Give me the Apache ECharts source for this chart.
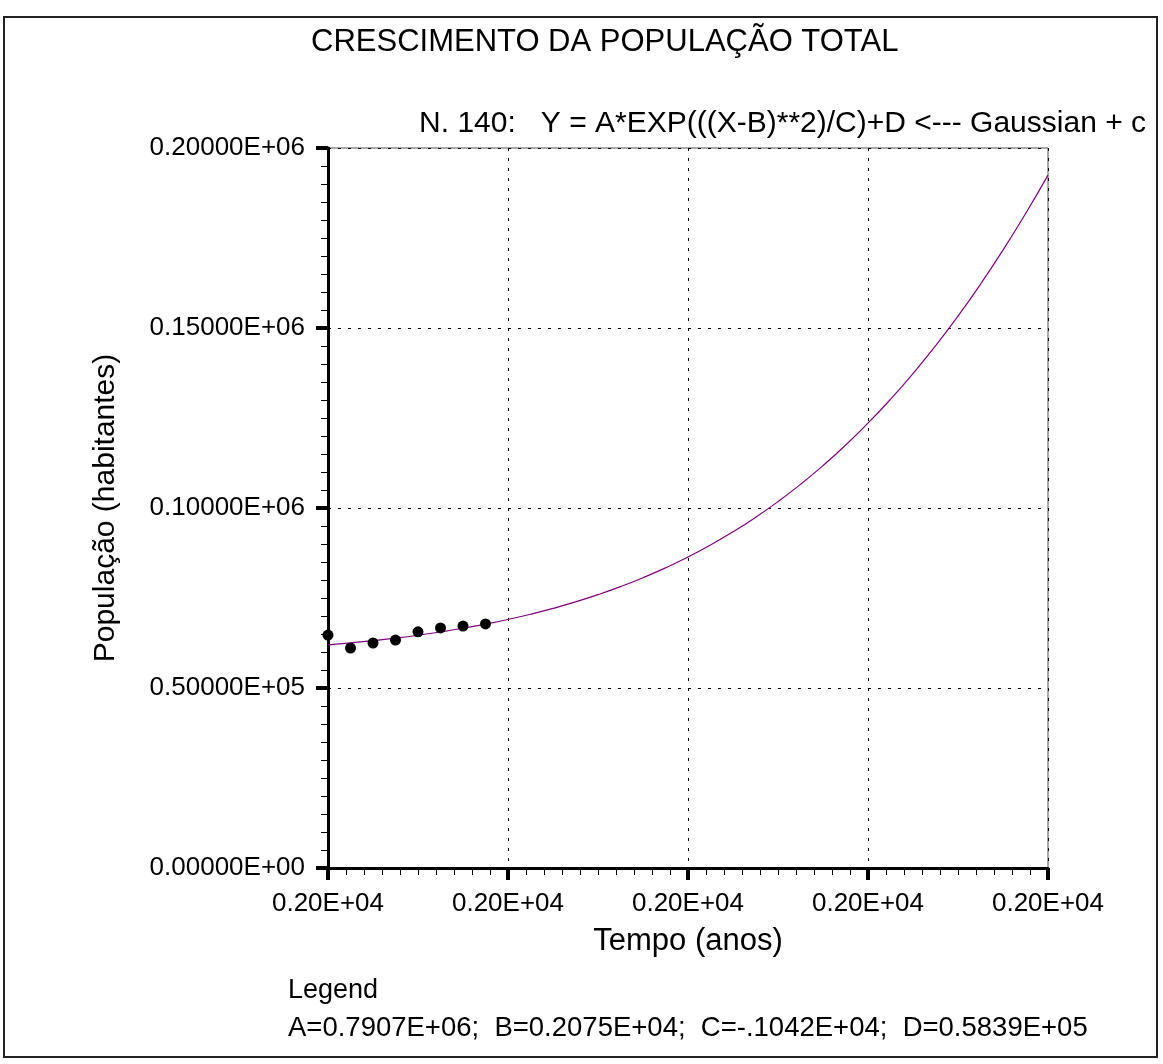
<!DOCTYPE html>
<html>
<head>
<meta charset="utf-8">
<script src="https://cdn.jsdelivr.net/npm/echarts@6/dist/echarts.min.js"></script>
<style>
html,body{margin:0;padding:0;background:#fff;}
#chart{width:1163px;height:1064px;}
</style>
</head>
<body>
<div id="chart"></div>
<script>
// Observed data (year, population)
var obsYears = [2000, 2001, 2002, 2003, 2004, 2005, 2006, 2007];
var obsValues = [64700, 61100, 62500, 63300, 65600, 66700, 67200, 67800];
// Fitted curve values read at each year
var fitYears = [2000,2001,2002,2003,2004,2005,2006,2007,2008,2009,2010,2011,2012,2013,2014,2015,2016,2017,2018,2019,2020,2021,2022,2023,2024,2025,2026,2027,2028,2029,2030,2031,2032];
var fitValues = [61967,62517,63141,63852,64655,65563,66588,67740,69034,70485,72104,73911,75925,78160,80638,83377,86395,89725,93382,97391,101774,106557,111767,117424,123556,130191,137344,145042,153307,162166,171637,181734,192473];
var yTickLabels = {0:'0.00000E+00', 50000:'0.50000E+05', 100000:'0.10000E+06', 150000:'0.15000E+06', 200000:'0.20000E+06'};
var xTickLabel = '0.20E+04';
var titleText = 'CRESCIMENTO DA POPULAÇÃO TOTAL';
var subText = 'N. 140:   Y = A*EXP(((X-B)**2)/C)+D <--- Gaussian + c';
var legendLines = ['Legend', 'A=0.7907E+06;  B=0.2075E+04;  C=-.1042E+04;  D=0.5839E+05'];

var chart = echarts.init(document.getElementById('chart'), null, {renderer:'canvas'});
var font = 'Liberation Sans, Arial, sans-serif';
var option = {
  animation: false,
  backgroundColor: '#fff',
  textStyle: {fontFamily: font},
  title: [
    {text: titleText, left: 306, top: 22, textStyle: {fontFamily: font, fontSize: 31, fontWeight: 'normal', color: '#000'}},
    {text: subText, right: 12, top: 104, textStyle: {fontFamily: font, fontSize: 30, fontWeight: 'normal', color: '#000'}}
  ],
  grid: {left: 328, top: 148, width: 720, height: 720, show: true, borderColor: '#555', borderWidth: 1, backgroundColor: 'transparent'},
  xAxis: {
    type: 'value', min: 2000, max: 2032, interval: 8,
    name: 'Tempo (anos)', nameLocation: 'middle', nameGap: 58,
    nameTextStyle: {fontFamily: font, fontSize: 31, color: '#000'},
    axisLine: {show: true, lineStyle: {color: '#000', width: 3}},
    axisTick: {show: true, length: 12, lineStyle: {color: '#000', width: 4}},
    minorTick: {show: true, splitNumber: 10, length: 7, lineStyle: {color: '#000', width: 1}},
    axisLabel: {formatter: function(){return xTickLabel;}, fontFamily: font, fontSize: 26, color: '#000', margin: 23},
    splitLine: {show: true, lineStyle: {color: '#000', width: 1, type: [3, 7]}}
  },
  yAxis: {
    type: 'value', min: 0, max: 200000, interval: 50000,
    name: 'População (habitantes)', nameLocation: 'middle', nameGap: 207, nameRotate: 90,
    nameTextStyle: {fontFamily: font, fontSize: 30, color: '#000'},
    axisLine: {show: true, lineStyle: {color: '#000', width: 3}},
    axisTick: {show: true, length: 12, lineStyle: {color: '#000', width: 4}},
    minorTick: {show: true, splitNumber: 10, length: 7, lineStyle: {color: '#000', width: 1}},
    axisLabel: {formatter: function(v){return yTickLabels[v] || '';}, fontFamily: font, fontSize: 26, color: '#000', margin: 23},
    splitLine: {show: true, lineStyle: {color: '#000', width: 1, type: [3, 7]}}
  },
  series: [
    {type: 'line', data: fitYears.map(function(x,i){return [x, fitValues[i]];}), smooth: true, showSymbol: false, symbol: 'none',
      lineStyle: {color: '#800080', width: 1.2}, z: 3},
    {type: 'scatter', data: obsYears.map(function(x,i){return [x, obsValues[i]];}), symbol: 'circle', symbolSize: 11,
      itemStyle: {color: '#000', opacity: 1}, z: 4}
  ],
  graphic: [
    {type: 'rect', shape: {x: 4, y: 17, width: 1153, height: 1040}, style: {fill: 'none', stroke: '#222', lineWidth: 2}, silent: true, z: -1},
    {type: 'text', left: 288, top: 977, style: {text: legendLines[0], font: '27px ' + font, fill: '#000'}},
    {type: 'text', left: 288, top: 1014, style: {text: legendLines[1], font: '27.5px ' + font, fill: '#000'}}
  ]
};
chart.setOption(option);
</script>
</body>
</html>
